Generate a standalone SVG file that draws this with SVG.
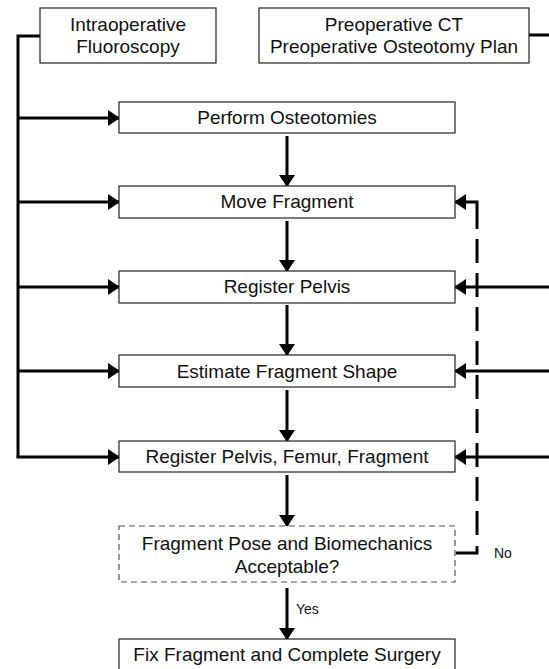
<svg xmlns="http://www.w3.org/2000/svg" width="549" height="669" viewBox="0 0 549 669">
<style>
.box{fill:#fff;stroke:#222;stroke-width:1.2}
.dbox{fill:#fff;stroke:#555;stroke-width:1.2;stroke-dasharray:6,4}
.t{font-family:"Liberation Sans",Arial,sans-serif;font-size:19px;fill:#111;text-anchor:middle}
.s{font-family:"Liberation Sans",Arial,sans-serif;font-size:14px;fill:#111}
.c{fill:none;stroke:#000;stroke-width:3}
.d{fill:none;stroke:#000;stroke-width:3;stroke-dasharray:24,10}
</style>
<defs>
<marker id="ah" markerUnits="userSpaceOnUse" markerWidth="12" markerHeight="16" refX="11" refY="8" orient="auto">
<path d="M0,0 L12,8 L0,16 z" fill="#000"/>
</marker>
</defs>
<rect width="549" height="669" fill="#fff"/>
<g id="connectors">
<path class="c" d="M40,36 H18 V457"/>
<line class="c" x1="18" y1="118" x2="119" y2="118" marker-end="url(#ah)"/>
<line class="c" x1="18" y1="202" x2="119" y2="202" marker-end="url(#ah)"/>
<line class="c" x1="18" y1="287" x2="119" y2="287" marker-end="url(#ah)"/>
<line class="c" x1="18" y1="371" x2="119" y2="371" marker-end="url(#ah)"/>
<line class="c" x1="16.5" y1="457" x2="119" y2="457" marker-end="url(#ah)"/>
<line class="c" x1="529" y1="35" x2="549" y2="35"/>
<line class="c" x1="549" y1="287" x2="455" y2="287" marker-end="url(#ah)"/>
<line class="c" x1="549" y1="371" x2="455" y2="371" marker-end="url(#ah)"/>
<line class="c" x1="549" y1="457" x2="455" y2="457" marker-end="url(#ah)"/>
<line class="c" x1="287" y1="136" x2="287" y2="186" marker-end="url(#ah)"/>
<line class="c" x1="287" y1="221" x2="287" y2="271" marker-end="url(#ah)"/>
<line class="c" x1="287" y1="305" x2="287" y2="355" marker-end="url(#ah)"/>
<line class="c" x1="287" y1="390" x2="287" y2="441" marker-end="url(#ah)"/>
<line class="c" x1="287" y1="475" x2="287" y2="526" marker-end="url(#ah)"/>
<line class="c" x1="287" y1="588" x2="287" y2="639" marker-end="url(#ah)"/>
<path class="c" d="M456,553 H477 V546"/>
<line class="d" x1="477" y1="535" x2="477" y2="214"/>
<path class="c" d="M477,214 V202 H455" marker-end="url(#ah)"/>
<text class="s" x="296" y="614">Yes</text>
<text class="s" x="494" y="558">No</text>
</g>
<g id="n1"><rect class="box" x="40" y="8" width="176" height="55"/>
<text class="t" x="128" y="31">Intraoperative</text><text class="t" x="128" y="53">Fluoroscopy</text></g>
<g id="n2"><rect class="box" x="259" y="8" width="270" height="55"/>
<text class="t" x="394" y="31">Preoperative CT</text><text class="t" x="394" y="53">Preoperative Osteotomy Plan</text></g>
<g id="n3"><rect class="box" x="119" y="102" width="336" height="31"/><text class="t" x="287" y="124">Perform Osteotomies</text></g>
<g id="n4"><rect class="box" x="119" y="186" width="336" height="32"/><text class="t" x="287" y="208">Move Fragment</text></g>
<g id="n5"><rect class="box" x="119" y="271" width="336" height="32"/><text class="t" x="287" y="293">Register Pelvis</text></g>
<g id="n6"><rect class="box" x="119" y="355" width="336" height="32"/><text class="t" x="287" y="378">Estimate Fragment Shape</text></g>
<g id="n7"><rect class="box" x="119" y="441" width="336" height="31"/><text class="t" x="287" y="463">Register Pelvis, Femur, Fragment</text></g>
<g id="n8"><rect class="dbox" x="119" y="526" width="336" height="56"/>
<text class="t" x="287" y="550">Fragment Pose and Biomechanics</text><text class="t" x="287" y="573">Acceptable?</text></g>
<g id="n9"><rect class="box" x="119" y="639" width="336" height="33"/><text class="t" x="287" y="661">Fix Fragment and Complete Surgery</text></g>
</svg>
